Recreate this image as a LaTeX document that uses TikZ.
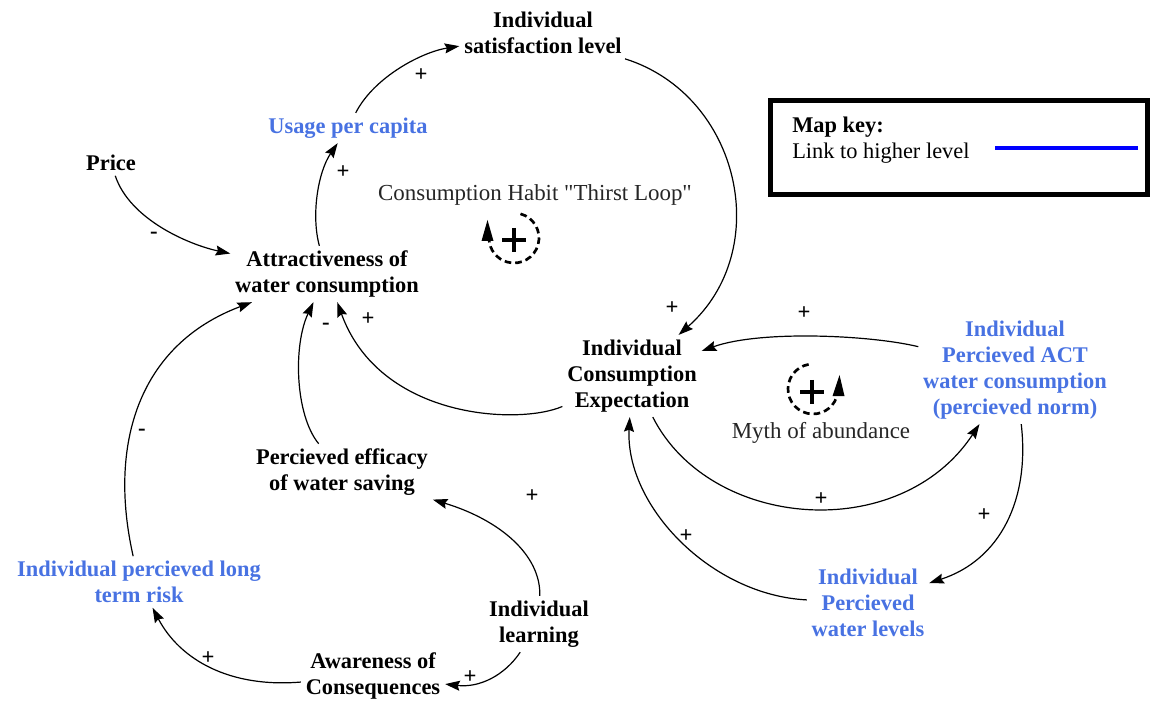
\documentclass[tikz,border=0pt]{standalone}
\usepackage{fontspec}
\setmainfont{Liberation Serif}
\newfontfamily\plainserif{Liberation Serif}[Ligatures=TeXOff]
\usetikzlibrary{arrows.meta}
\definecolor{linkblue}{RGB}{72,114,226}
\definecolor{keyblue}{RGB}{0,0,255}
\begin{document}
\begin{tikzpicture}[x=0.75pt,y=-0.75pt,
  var/.style={font=\fontsize{16.8}{19.5}\selectfont\bfseries, align=center, inner sep=3.5pt},
  hvar/.style={var, text=linkblue},
  link/.style={line width=0.9pt, -{Stealth[length=11pt,width=7.5pt,inset=1.5pt]}},
  pol/.style={font=\fontsize{17}{17}\selectfont\bfseries, inner sep=0pt},
  looplabel/.style={font=\plainserif\fontsize{17.2}{19}\selectfont, text=black!85},
  loopcirc/.style={line width=2pt, dash pattern=on 5pt off 3pt},
  looptip/.style={fill=black},
  loopplus/.style={line width=3.6pt},
]
\useasboundingbox (0,0) rectangle (1150,702);

% variables
\node[var]  (sat)    at (543,33)  {Individual\\satisfaction level};
\node[hvar] (usage)  at (348,128) {Usage per capita};
\node[var]  (price)  at (111,163) {Price};
\node[var]  (attr)   at (327,274) {Attractiveness of\\water consumption};
\node[var]  (ice)    at (632,376) {Individual\\Consumption\\Expectation};
\node[hvar] (act)    at (1015,370) {Individual\\Percieved ACT\\water consumption\\(percieved norm)};
\node[hvar] (levels) at (868,603) {Individual\\Percieved\\water levels};
\node[var]  (eff)    at (342,472) {Percieved efficacy\\of water saving};
\node[hvar] (risk)   at (139,582) {Individual percieved long\\term risk};
\node[var]  (learn)  at (539,624) {Individual\\learning};
\node[var]  (aware)  at (373,676) {Awareness of\\Consequences};

% causal links
\draw[link] (usage) .. controls (374,77) and (422,52) .. (sat);
\draw[link] (attr) .. controls (311,215) and (318,172) .. (usage);
\draw[link] (price) .. controls (130,220) and (190,245) .. (attr);
\draw[link] (sat) .. controls (740,95) and (775,250) .. (ice);
\draw[link] (ice) .. controls (520,425) and (380,420) .. (attr);
\draw[link] (eff) .. controls (295,415) and (293,345) .. (attr);
\draw[link] (risk) .. controls (108,445) and (138,345) .. (attr);
\draw[link] (learn) .. controls (541,555) and (500,520) .. (eff);
\draw[link] (learn) .. controls (505,675) and (480,688) .. (aware);
\draw[link] (aware) .. controls (230,688) and (180,660) .. (risk);
\draw[link] (act) .. controls (870,335) and (760,330) .. (ice);
\draw[link] (ice) .. controls (710,530) and (900,545) .. (act);
\draw[link] (act) .. controls (1030,500) and (1000,560) .. (levels);
\draw[link] (levels) .. controls (710,595) and (625,505) .. (ice);

% polarities
\node[pol] (s1)  at (421,75)  {+};
\node[pol] (s2)  at (343,172) {+};
\node[pol] (s3)  at (154,235) {-};
\node[pol] (s4)  at (672,308) {+};
\node[pol] (s5)  at (368,319) {+};
\node[pol] (s6)  at (326,326) {-};
\node[pol] (s7)  at (142,432) {-};
\node[pol] (s8)  at (532,496) {+};
\node[pol] (s9)  at (470,677) {+};
\node[pol] (s10) at (208,658) {+};
\node[pol] (s11) at (804,313) {+};
\node[pol] (s12) at (821,499) {+};
\node[pol] (s13) at (984,515) {+};
\node[pol] (s14) at (686,536) {+};

% loop markers
\node[looplabel] (thirst) at (535,195) {Consumption Habit "Thirst Loop"};
\draw[loopcirc] ([shift={(-75:25)}]514,238) arc[start angle=-75, end angle=178, radius=25];
\fill[looptip] (481.5,241) -- (493.5,241) -- (487.5,220) -- cycle;
\draw[loopplus] (502,240) -- (526,240) (514,228) -- (514,252);

\node[looplabel] (myth) at (821,433) {Myth of abundance};
\draw[loopcirc] ([shift={(-100:25)}]813,389) arc[start angle=-100, end angle=-360, radius=25];
\fill[looptip] (832.5,396) -- (844.5,396) -- (839.5,375) -- cycle;
\draw[loopplus] (800,392) -- (824,392) (812,380) -- (812,404);

% map key
\draw[line width=3.75pt] (770.5,100.5) rectangle (1147.5,194.5);
\node[anchor=west, font=\fontsize{16.8}{19}\selectfont\bfseries, inner sep=0pt] (keytitle) at (792,127) {Map key:};
\node[anchor=west, font=\fontsize{16.8}{19}\selectfont, inner sep=0pt] (keytext) at (792,153) {Link to higher level};
\draw[keyblue, line width=3pt] (995,148) -- (1138,148);
\end{tikzpicture}
\end{document}
